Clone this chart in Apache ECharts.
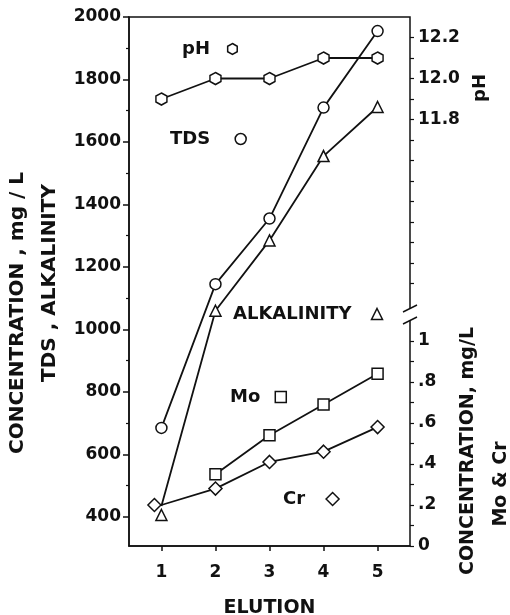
<!DOCTYPE html>
<html>
<head>
<meta charset="utf-8">
<script src="https://cdn.jsdelivr.net/npm/echarts@6/dist/echarts.min.js"></script>
<style>
  html, body { margin:0; padding:0; background:#fff; }
  #chart { width:510px; height:615px; }
</style>
</head>
<body>
<div id="chart"></div>
<script>
// values
const elution = [1, 2, 3, 4, 5];
const tds = [685, 1145, 1355, 1710, 1955];
const alkalinity = [435, 1060, 1285, 1555, 1712];
const ph = [11.9, 12.0, 12.0, 12.1, 12.1];
const mo = [null, 0.35, 0.54, 0.69, 0.84];
const cr = [0.2, 0.28, 0.41, 0.46, 0.58];

// tick labels
const leftLabels = [400, 600, 800, 1000, 1200, 1400, 1600, 1800, 2000];
const leftMinor = [500, 700, 900, 1100, 1300, 1500, 1700, 1900];
const phLabels = [11.8, 12.0, 12.2];
const phTicks = [11.0, 11.1, 11.2, 11.3, 11.4, 11.5, 11.6, 11.7, 11.8, 11.9, 12.0, 12.1, 12.2];
const metalLabels = [0, 0.2, 0.4, 0.6, 0.8, 1];
const metalTicks = [0, 0.1, 0.2, 0.3, 0.4, 0.5, 0.6, 0.7, 0.8, 0.9, 1.0];

const FONT = 'DejaVu Sans';
const INK = '#111';
const hexagon = 'path://M0,-1 L0.87,-0.5 L0.87,0.5 L0,1 L-0.87,0.5 L-0.87,-0.5 Z';

const pairs = (ys) => elution.map((x, i) => [x, ys[i]]).filter(p => p[1] != null);

const markStyle = { color:'#fff', borderColor:INK, borderWidth:1.5 };
const lineStyle = { color:INK, width:1.8 };

function line(name, data, yAxisIndex, symbol, size){
    return {
        type:'line', name, data, yAxisIndex,
        symbol, symbolSize:size, showSymbol:true,
        itemStyle:markStyle, lineStyle,
        emphasis:{ disabled:true }, animation:false
    };
}

let alkData = pairs(alkalinity);
alkData[0] = { value:alkData[0], symbolOffset:[0, 9] };
let crData = pairs(cr);
crData[0] = { value:crData[0], symbolOffset:[-7, 0] };

function keyLegend(name, icon, left, top, gap, size){
    return {
        data:[{ name, icon }],
        left, top, align:'right', orient:'horizontal',
        padding:0, itemWidth:size || 11, itemHeight:size || 11,
        itemStyle:markStyle, selectedMode:false,
        textStyle:{ fontFamily:FONT, fontWeight:'bold', fontSize:18, color:INK, padding:[0, gap, 0, 0] }
    };
}

const tickFont = { fontFamily:FONT, fontWeight:'bold', fontSize:17, color:INK };
const titleFont = (size) => 'bold ' + size + 'px ' + FONT;

const myChart = echarts.init(document.getElementById('chart'));
const option = {
    backgroundColor:'#fff',
    animation:false,
    grid:{ left:129, right:100, top:17, bottom:69, outerBoundsMode:'none',
           show:true, borderColor:INK, borderWidth:1.5 },
    legend:[
        keyLegend('pH', hexagon, 182, 40, 12),
        keyLegend('TDS', 'circle', 170, 130, 20),
        keyLegend('ALKALINITY', 'triangle', 233, 305, 15),
        keyLegend('Mo', 'rect', 230, 388, 10),
        keyLegend('Cr', 'diamond', 283, 490, 16, 13)
    ],
    xAxis:{
        type:'value', min:0.4, max:5.6,
        axisLine:{ lineStyle:{ color:INK, width:1.5 } },
        axisTick:{ customValues:elution, length:5, lineStyle:{ color:INK, width:1.5 } },
        axisLabel:{ customValues:elution, margin:18, ...tickFont },
        splitLine:{ show:false },
        name:'ELUTION', nameLocation:'middle', nameGap:53,
        nameTextStyle:{ fontFamily:FONT, fontWeight:'bold', fontSize:19, color:INK }
    },
    yAxis:[
        {
            type:'value', position:'left', min:307, max:2000,
            axisLine:{ show:true, lineStyle:{ color:INK, width:1.5 } },
            axisTick:{ customValues:leftLabels, length:6, lineStyle:{ color:INK, width:1.5 } },
            axisLabel:{ customValues:leftLabels, margin:8, formatter:(v)=>String(v), ...tickFont },
            splitLine:{ show:false }
        },
        {
            type:'value', position:'left', min:307, max:2000,
            axisLine:{ show:false },
            axisTick:{ customValues:leftMinor, length:3, lineStyle:{ color:INK, width:1.2 } },
            axisLabel:{ show:false },
            splitLine:{ show:false }
        },
        {
            type:'value', position:'right', min:9.72, max:12.30,
            axisLine:{ show:false },
            axisTick:{ customValues:phTicks, length:4, lineStyle:{ color:INK, width:1.2 } },
            axisLabel:{ customValues:phLabels, margin:8, formatter:(v)=>v.toFixed(1), ...tickFont },
            splitLine:{ show:false }
        },
        {
            type:'value', position:'right', min:0, max:2.58,
            axisLine:{ show:false },
            axisTick:{ customValues:metalTicks, length:4, lineStyle:{ color:INK, width:1.2 } },
            axisLabel:{
                customValues:metalLabels, margin:8, ...tickFont,
                formatter:(v)=>(v === 0 || v === 1) ? String(v) : String(v).replace(/^0/, '')
            },
            splitLine:{ show:false }
        }
    ],
    graphic:[
        // axis titles
        { type:'text', x:18, y:313, rotation:Math.PI/2,
          style:{ text:'CONCENTRATION , mg / L', font:titleFont(20), fill:INK, align:'center', verticalAlign:'middle' } },
        { type:'text', x:50, y:283, rotation:Math.PI/2,
          style:{ text:'TDS , ALKALINITY', font:titleFont(20), fill:INK, align:'center', verticalAlign:'middle' } },
        { type:'text', x:480, y:88, rotation:Math.PI/2,
          style:{ text:'pH', font:titleFont(18), fill:INK, align:'center', verticalAlign:'middle' } },
        { type:'text', x:468, y:451, rotation:Math.PI/2,
          style:{ text:'CONCENTRATION, mg/L', font:titleFont(19), fill:INK, align:'center', verticalAlign:'middle' } },
        { type:'text', x:501, y:484, rotation:Math.PI/2,
          style:{ text:'Mo & Cr', font:titleFont(19), fill:INK, align:'center', verticalAlign:'middle' } },
        // axis break on the right side
        { type:'rect', shape:{ x:405, y:309, width:10, height:11 }, style:{ fill:'#fff' }, z:100 },
        { type:'line', shape:{ x1:403, y1:312, x2:417, y2:305 }, style:{ stroke:INK, lineWidth:1.5 }, z:101 },
        { type:'line', shape:{ x1:403, y1:324, x2:417, y2:317 }, style:{ stroke:INK, lineWidth:1.5 }, z:101 }
    ],
    series:[
        line('pH', pairs(ph), 2, hexagon, [11, 12]),
        line('TDS', pairs(tds), 0, 'circle', 11),
        line('ALKALINITY', alkData, 0, 'triangle', 11),
        line('Mo', pairs(mo), 3, 'rect', 11),
        line('Cr', crData, 3, 'diamond', 13)
    ]
};
myChart.setOption(option);
window.addEventListener('resize', ()=>{ if (myChart) myChart.resize(); });
</script>
</body>
</html>
